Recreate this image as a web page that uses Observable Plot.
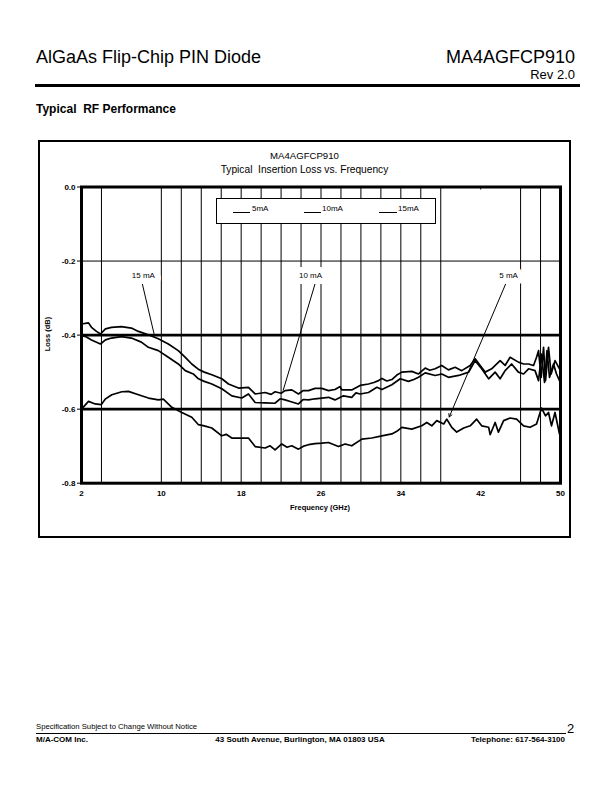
<!DOCTYPE html>
<html><head><meta charset="utf-8">
<script src="https://cdn.jsdelivr.net/npm/d3@7"></script>
<script src="https://cdn.jsdelivr.net/npm/@observablehq/plot@0.6"></script>
<style>
body{margin:0;background:#fff;font-family:"Liberation Sans",Arial,sans-serif;color:#000}
#page{position:relative;width:612px;height:792px;overflow:hidden;background:#fff}
.abs{position:absolute;white-space:pre;line-height:1}
#chart{position:absolute;left:38px;top:140px}
#box{position:absolute;left:38px;top:140px;width:533px;height:398px;border:2px solid #000;box-sizing:border-box;pointer-events:none}
.b{font-weight:bold}
.seg{position:absolute;height:0;border-top:1px solid #000}
</style></head><body><div id="page">
<div class="abs" style="left:36px;top:48px;font-size:18px">AlGaAs Flip-Chip PIN Diode</div>
<div class="abs" style="right:37px;top:48px;font-size:18px">MA4AGFCP910</div>
<div class="abs" style="right:37px;top:68px;font-size:13px">Rev 2.0</div>
<div style="position:absolute;left:35px;top:84px;width:545px;height:3px;background:#000"></div>
<div class="abs b" style="left:36px;top:102.5px;font-size:12px">Typical  RF Performance</div>

<div id="chart"></div>
<div id="box"></div>
<div class="abs" style="left:38px;width:533px;text-align:center;top:150.5px;font-size:9.6px">MA4AGFCP910</div>
<div class="abs" style="left:38px;width:533px;text-align:center;top:165px;font-size:10.2px">Typical  Insertion Loss vs. Frequency</div>

<div style="position:absolute;left:216px;top:198px;width:220px;height:26px;border:1px solid #000;box-sizing:border-box;background:#fff"></div>
<div class="seg" style="left:233px;top:212px;width:17px"></div>
<div class="abs" style="left:252px;top:205px;font-size:8px">5mA</div>
<div class="seg" style="left:304px;top:212px;width:17px"></div>
<div class="abs" style="left:322px;top:205px;font-size:8px">10mA</div>
<div class="seg" style="left:379px;top:212px;width:18px"></div>
<div class="abs" style="left:398px;top:205px;font-size:8px">15mA</div>

<div class="abs b" style="left:220px;width:200px;text-align:center;top:504px;font-size:7.5px">Frequency (GHz)</div>
<div class="abs b" style="left:8px;width:80px;text-align:center;top:330px;font-size:7.5px;transform:rotate(-90deg);transform-origin:40px 4px">Loss (dB)</div>

<div class="abs" style="left:36px;top:723px;font-size:7.7px">Specification Subject to Change Without Notice</div>
<div style="position:absolute;left:36px;top:732.5px;width:530px;height:1px;background:#000"></div>
<div class="abs b" style="left:36px;top:736px;font-size:8px">M/A-COM Inc.</div>
<div class="abs b" style="left:150px;width:300px;text-align:center;top:736px;font-size:8px">43 South Avenue, Burlington, MA 01803 USA</div>
<div class="abs b" style="right:47px;top:736px;font-size:8px">Telephone: 617-564-3100</div>
<div class="abs" style="left:567px;top:722px;font-size:13px">2</div>
</div>
<script>
// ---- data (GHz, dB) ----
const freq15 = [2.0,2.7,3.0,3.5,3.9,4.4,5.0,6.0,7.0,7.7,8.7,9.7,10.7,11.7,12.4,13.05,13.7,14.3,15.06,16.06,16.73,17.73,18.73,19.4,20.4,21.0,21.4,22.0,22.4,23.07,23.74,24.2,24.75,25.4,26.08,26.75,27.4,27.92,28.08,29.08,29.92,30.76,31.3,31.76,32.1,32.6,33.1,33.6,34.1,35.1,35.77,36.44,36.9,37.44,38.1,38.77,39.44,40.1,40.95,41.45,41.95,42.45,43.1,43.95,44.45,44.95,45.78,46.3,46.8,47.3,47.6,47.8,48.06,48.3,48.5,48.8,49.06,49.45,49.9];
const loss15 = [-0.370,-0.367,-0.379,-0.390,-0.397,-0.383,-0.379,-0.377,-0.381,-0.390,-0.399,-0.410,-0.424,-0.442,-0.460,-0.478,-0.492,-0.500,-0.507,-0.518,-0.532,-0.543,-0.541,-0.559,-0.555,-0.560,-0.553,-0.557,-0.550,-0.548,-0.559,-0.550,-0.550,-0.544,-0.544,-0.550,-0.547,-0.539,-0.548,-0.548,-0.536,-0.532,-0.528,-0.523,-0.517,-0.524,-0.520,-0.508,-0.500,-0.498,-0.505,-0.489,-0.495,-0.491,-0.482,-0.494,-0.487,-0.496,-0.482,-0.464,-0.482,-0.500,-0.491,-0.469,-0.482,-0.460,-0.473,-0.478,-0.478,-0.482,-0.460,-0.442,-0.514,-0.433,-0.523,-0.433,-0.505,-0.469,-0.491];

const freq10 = [2.0,2.5,3.0,3.9,4.4,5.0,6.0,7.0,8.0,8.7,9.7,10.7,11.7,12.4,13.2,13.72,14.3,15.06,16.06,17.06,18.06,18.73,19.4,20.4,21.4,21.9,22.4,23.0,23.74,24.2,24.75,25.4,26.08,26.75,27.4,28.25,29.08,29.5,29.92,30.76,31.6,32.1,33.1,33.94,34.76,35.3,35.77,36.44,37.44,38.1,38.77,39.8,40.8,41.45,42.1,42.8,43.45,43.95,44.45,45.1,45.78,46.3,46.8,47.45,47.8,48.1,48.4,48.65,48.9,49.3,49.6,49.9];
const loss10 = [-0.401,-0.405,-0.413,-0.424,-0.413,-0.408,-0.404,-0.408,-0.419,-0.433,-0.442,-0.460,-0.478,-0.496,-0.505,-0.518,-0.525,-0.532,-0.545,-0.564,-0.570,-0.559,-0.582,-0.583,-0.584,-0.572,-0.575,-0.580,-0.586,-0.574,-0.575,-0.572,-0.570,-0.568,-0.575,-0.564,-0.568,-0.556,-0.559,-0.555,-0.541,-0.547,-0.534,-0.518,-0.525,-0.520,-0.514,-0.502,-0.509,-0.505,-0.514,-0.509,-0.500,-0.469,-0.491,-0.518,-0.500,-0.518,-0.496,-0.478,-0.500,-0.505,-0.491,-0.496,-0.523,-0.451,-0.528,-0.442,-0.514,-0.478,-0.505,-0.523];

const freq5 = [2.0,2.7,3.37,3.97,4.37,5.04,6.04,6.7,7.71,8.71,9.71,10.2,11.05,12.05,13.05,13.72,14.3,15.06,16.06,16.5,17.06,17.73,18.73,19.4,20.4,20.9,21.4,22.07,22.6,23.07,23.74,24.25,24.75,25.4,26.08,26.75,27.75,28.42,29.08,30.09,31.09,32.1,33.1,33.6,34.1,35.1,36.1,36.6,37.1,37.6,38.3,38.6,39.1,39.6,40.3,40.95,41.6,42.1,42.8,42.95,43.45,43.78,44.3,44.95,45.6,46.3,46.95,47.6,48.1,48.5,48.8,49.1,49.45,49.9];
const loss5 = [-0.600,-0.579,-0.586,-0.588,-0.573,-0.561,-0.553,-0.552,-0.561,-0.570,-0.575,-0.573,-0.595,-0.609,-0.622,-0.642,-0.645,-0.651,-0.672,-0.668,-0.678,-0.678,-0.678,-0.701,-0.705,-0.699,-0.710,-0.694,-0.703,-0.699,-0.708,-0.700,-0.696,-0.693,-0.692,-0.690,-0.701,-0.694,-0.699,-0.681,-0.678,-0.672,-0.667,-0.660,-0.649,-0.654,-0.645,-0.636,-0.645,-0.631,-0.640,-0.627,-0.649,-0.662,-0.651,-0.645,-0.627,-0.645,-0.649,-0.669,-0.636,-0.662,-0.631,-0.624,-0.627,-0.645,-0.649,-0.640,-0.597,-0.618,-0.609,-0.645,-0.609,-0.667];

const xTicks = [2,10,18,26,34,42,50];
const yTicks = [0,-0.2,-0.4,-0.6,-0.8];
const vGrid = [4,10,12,14,16,18,20,22,24,26,28,30,32,34,36,38,46,48];
const thinH = [-0.2];
const thickH = [-0.4,-0.6];

const annoText = ["15 mA","10 mA","5 mA"];
const annoTextF = [8.2,24.95,44.8];
const annoTextL = [-0.239,-0.239,-0.239];
const annoFromF = [8.1,25.4,44.5];
const annoFromL = [-0.262,-0.262,-0.262];
const annoToF = [9.3,22.2,38.85];
const annoToL = [-0.400,-0.550,-0.621];

const sets = [["5mA",freq5,loss5],["10mA",freq10,loss10],["15mA",freq15,loss15]];
const rows = sets.flatMap(([s,f,l]) => f.map((v,i)=>({series:s,freq:v,loss:l[i]})));
const annos = annoText.map((t,i)=>({t,x:annoTextF[i],y:annoTextL[i],x1:annoFromF[i],y1:annoFromL[i],x2:annoToF[i],y2:annoToL[i]}));

const chart = Plot.plot({
  width: 533, height: 398,
  marginLeft: 43, marginRight: 11, marginTop: 46.5, marginBottom: 55.3,
  style: {fontFamily: "'Liberation Sans', Arial, sans-serif", fontSize: "8px", fontWeight: "bold", background: "transparent", overflow: "visible"},
  x: {domain: [2,50]},
  y: {domain: [-0.8,0]},
  marks: [
    Plot.ruleX(vGrid, {stroke: "#000", strokeWidth: 1}),
    Plot.ruleX([42], {y1: 0, y2: -0.008, stroke: "#000", strokeWidth: 1}),
    Plot.ruleY(thinH, {stroke: "#000", strokeWidth: 1}),
    Plot.ruleY(thickH, {stroke: "#000", strokeWidth: 2.7}),
    Plot.link(annos.slice(0,2), {x1:"x1", y1:"y1", x2:"x2", y2:"y2", stroke:"#000", strokeWidth: 1}),
    Plot.arrow(annos.slice(2), {x1:"x1", y1:"y1", x2:"x2", y2:"y2", stroke:"#000", strokeWidth: 1, headLength: 5, bend: 0}),
    Plot.text(annos, {x:"x", y:"y", text:"t", fill:"#000", stroke:"#fff", strokeWidth: 12, fontWeight: "normal", fontSize: 8}),
    Plot.line(rows, {x:"freq", y:"loss", z:"series", stroke:"#000", strokeWidth: 1.7, curve: "linear"}),
    Plot.frame({stroke:"#000", strokeWidth: 3}),
    Plot.axisY({ticks: yTicks, tickFormat: d => d.toFixed(1), tickSize: 4, tickPadding: 2, label: null}),
    Plot.axisX({ticks: xTicks, tickFormat: d => String(d), tickSize: 0, tickPadding: 7, label: null})
  ]
});
document.getElementById("chart").appendChild(chart);
</script>
</body></html>
